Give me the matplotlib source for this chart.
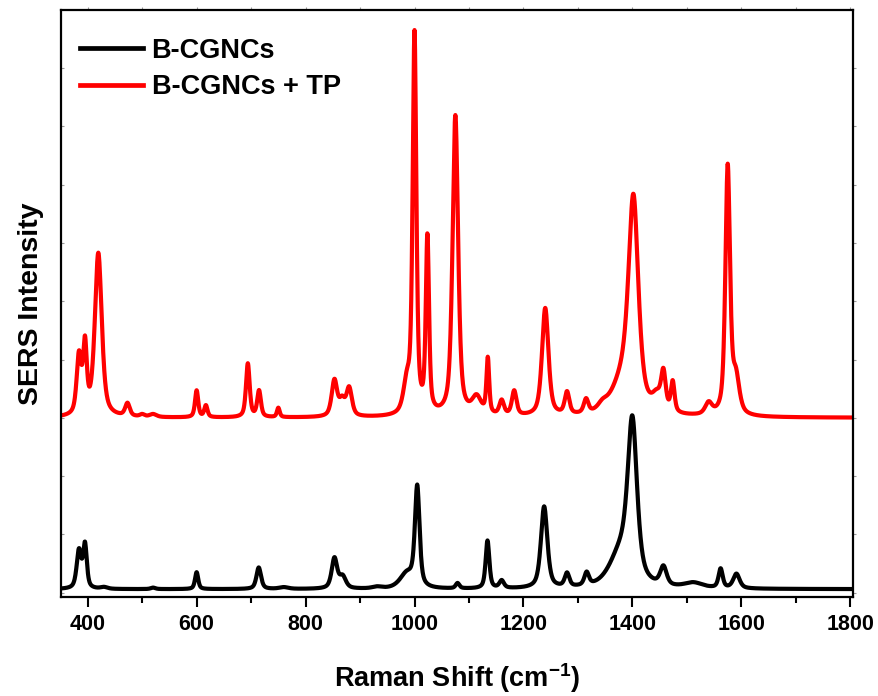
import numpy as np
import matplotlib
matplotlib.use("Agg")
import matplotlib.pyplot as plt
from matplotlib.ticker import MultipleLocator, NullFormatter

plt.rcParams['font.family'] = ['Liberation Sans', 'DejaVu Sans']
plt.rcParams['font.weight'] = 'bold'
plt.rcParams['mathtext.fontset'] = 'custom'
plt.rcParams['mathtext.bf'] = 'Liberation Sans:bold'
plt.rcParams['mathtext.rm'] = 'Liberation Sans:bold'

# peak tables: centre (cm-1), height above baseline, FWHM (cm-1)
bcgnc_centres = [384, 395, 430, 520, 600, 714, 760, 853, 868, 931, 986, 1005, 1079,
                 1134, 1160, 1238, 1280, 1316, 1380, 1400, 1457, 1512, 1562, 1591]
bcgnc_heights = [650, 740, 30, 25, 290, 370, 30, 520, 200, 30, 250, 1700, 90,
                 820, 130, 1400, 230, 220, 600, 2600, 320, 90, 330, 250]
bcgnc_widths = [10, 8, 15, 10, 7, 10, 20, 12, 14, 20, 30, 10, 8,
                8, 10, 14, 10, 10, 50, 20, 14, 40, 9, 14]
bcgnc_base = 60

tp_centres = [384, 395, 419.5, 473, 500, 520, 600, 617, 694, 714.6, 750, 853, 867, 880,
              986, 1000, 1023.7, 1075, 1114, 1134.6, 1160, 1183, 1240, 1280, 1315, 1345,
              1385, 1402, 1445, 1457, 1474, 1540, 1575, 1590]
tp_heights = [1000, 1150, 2800, 220, 40, 50, 460, 200, 920, 450, 160, 620, 250, 480,
              500, 6500, 3000, 5150, 300, 950, 250, 420, 1850, 380, 240, 100,
              600, 3400, 250, 620, 520, 200, 4250, 600]
tp_widths = [10, 8, 15, 10, 10, 15, 7, 7, 8, 8, 6, 12, 12, 12,
             15, 8, 7, 12, 20, 6, 10, 10, 14, 10, 10, 20,
             50, 21, 20, 10, 8, 15, 10, 15]
tp_base = 3000


def spectrum(x, centres, heights, widths, base, eta=0.6):
    y = np.full_like(x, base, dtype=float)
    for c, h, w in zip(centres, heights, widths):
        u = (x - c) / (w / 2.0)
        y += h * (eta / (1 + u ** 2) + (1 - eta) * np.exp(-np.log(2) * u ** 2))
    return y


x = np.linspace(351, 1804, 2907)
y_b = spectrum(x, bcgnc_centres, bcgnc_heights, bcgnc_widths, bcgnc_base)
y_tp = spectrum(x, tp_centres, tp_heights, tp_widths, tp_base)

fig = plt.figure(figsize=(8.79, 6.96), dpi=100)
ax = fig.add_axes([0.0694, 0.1422, 0.901, 0.8434])

ax.plot(x, y_b, color='black', lw=3.0, label='B-CGNCs')
ax.plot(x, y_tp, color='#ff0000', lw=3.0, label='B-CGNCs + TP')

ax.set_xlim(351, 1805)
ax.set_ylim(-74, 9995)
ax.xaxis.set_major_locator(MultipleLocator(200))
ax.xaxis.set_minor_locator(MultipleLocator(100))
ax.yaxis.set_major_locator(MultipleLocator(1000))
ax.yaxis.set_major_formatter(NullFormatter())

for s in ax.spines.values():
    s.set_linewidth(1.6)

ax.tick_params(axis='x', which='major', direction='out', length=7, width=1.5,
               labelsize=15.5, pad=5)
ax.tick_params(axis='x', which='minor', direction='out', length=4.5, width=1.5)
ax.tick_params(axis='y', which='major', direction='in', length=2.5, width=0.8,
               colors='#999999')
for lbl in ax.get_xticklabels():
    lbl.set_fontweight('bold')

# faint small ticks on top and right, as in the original
top = ax.secondary_xaxis('top')
top.xaxis.set_major_locator(MultipleLocator(100))
top.tick_params(direction='out', length=2.5, width=0.8, colors='#999999', labeltop=False)
top.spines['top'].set_visible(False)
right = ax.secondary_yaxis('right')
right.yaxis.set_major_locator(MultipleLocator(1000))
right.tick_params(direction='out', length=2.5, width=0.8, colors='#999999', labelright=False)
right.spines['right'].set_visible(False)

ax.set_xlabel(r'Raman Shift (cm$^{\mathbf{-1}}$)', fontsize=19.5, fontweight='bold', labelpad=19)
ax.set_ylabel('SERS Intensity', fontsize=20.5, fontweight='bold', labelpad=9)

leg = ax.legend(loc='upper left', frameon=False, handlelength=2.35,
                handletextpad=0.3, labelspacing=0.38, borderaxespad=0,
                bbox_to_anchor=(0.01, 0.971),
                prop={'weight': 'bold', 'size': 19.5})
for ln in leg.get_lines():
    ln.set_linewidth(3.4)

fig.savefig('out.png', dpi=100)
